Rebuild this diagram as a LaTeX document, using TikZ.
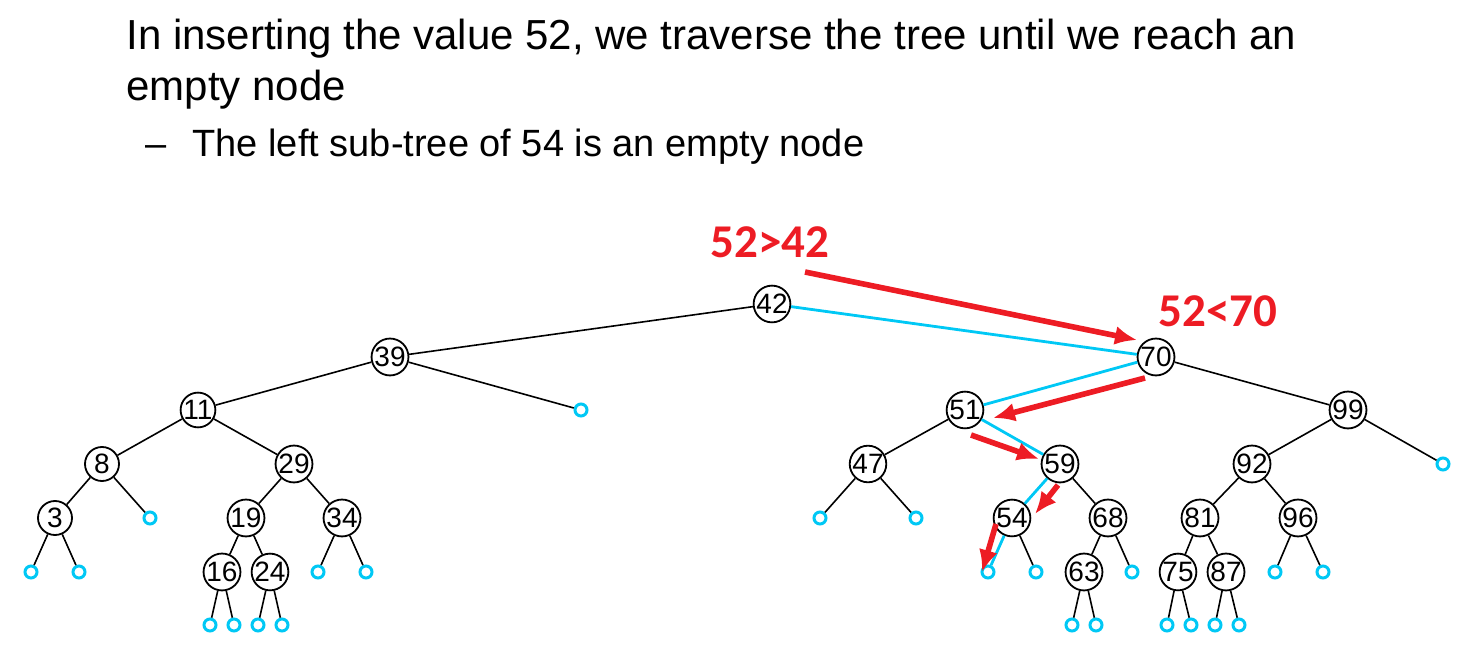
\documentclass[tikz,border=0pt]{standalone}
\usepackage{fontspec}
\setmainfont{Liberation Sans}
\newfontfamily\cmpfont{Carlito}
\usepackage{xcolor}
\usetikzlibrary{arrows.meta}
\definecolor{hitred}{RGB}{237,28,36}
\definecolor{leafcyan}{RGB}{0,200,245}

\begin{document}
\begin{tikzpicture}[>=Latex,x=0.5pt,y=-0.5pt,
    key/.style={circle,draw,line width=0.9pt,minimum size=17pt,inner sep=0pt,
      font=\fontsize{14}{14}\selectfont},
    leaf/.style={circle,draw=leafcyan,line width=1.5pt,minimum size=6pt,inner sep=0pt},
    edge/.style={line width=0.8pt},
    searchedge/.style={draw=leafcyan,line width=1.4pt},
    hop/.style={->,draw=hitred,line width=2.8pt,>={Latex[length=11pt,width=9.5pt]}},
    cmp/.style={text=hitred,anchor=base west,inner sep=0pt,
      font=\cmpfont\bfseries\fontsize{23.5}{23.5}\selectfont}]
    \useasboundingbox (0,0) rectangle (1477,672);
    \node[anchor=base west,inner sep=0pt,font=\fontsize{21}{21}\selectfont] (line1) at (126,50)
      {In inserting the value 52, we traverse the tree until we reach an};
    \node[anchor=base west,inner sep=0pt,font=\fontsize{21}{21}\selectfont] (line2) at (126,101)
      {empty node};
    \node[anchor=base west,inner sep=0pt,font=\fontsize{19}{19}\selectfont] (line3) at (145,157)
      {–\hspace{13pt}The left sub-tree of 54 is an empty node};
    % keys
    \foreach \n/\x/\y in {42/772/304,39/390/357,70/1156/357,11/198/410,51/965/410,
        99/1348/410,8/102/464,29/294/464,47/868/464,59/1060/464,92/1252/464,
        3/55/518,19/246/518,34/342/518,54/1012/518,68/1108/518,81/1200/518,
        96/1298/518,16/222/572,24/270/572,63/1084/572,75/1178/572,87/1226/572}
      \node[key] (n\n) at (\x,\y) {\n};
    % empty sub-trees
    \foreach \n/\x/\y in {39r/581/410,99r/1443/464,8r/150/518,47l/820/518,47r/916/518,
        3l/31/572,3r/79/572,34l/318/572,34r/366/572,54l/988/572,54r/1036/572,
        68r/1132/572,96l/1275/572,96r/1323/572,16l/210/625,16r/234/625,
        24l/258/625,24r/282/625,63l/1072/625,63r/1096/625,75l/1167/625,
        75r/1191/625,87l/1215/625,87r/1239/625}
      \node[leaf] (e\n) at (\x,\y) {};
    \foreach \a/\b in {n42/n39,n39/n11,n39/e39r,n11/n8,n11/n29,n8/n3,n8/e8r,
        n3/e3l,n3/e3r,n29/n19,n29/n34,n19/n16,n19/n24,n16/e16l,n16/e16r,
        n24/e24l,n24/e24r,n34/e34l,n34/e34r,n70/n99,n51/n47,n47/e47l,n47/e47r,
        n59/n68,n54/e54r,n68/n63,n68/e68r,n63/e63l,n63/e63r,n99/n92,n99/e99r,
        n92/n81,n92/n96,n81/n75,n81/n87,n75/e75l,n75/e75r,n87/e87l,n87/e87r,
        n96/e96l,n96/e96r}
      \draw[edge] (\a) -- (\b);
    \foreach \a/\b in {n42/n70,n70/n51,n51/n59,n59/n54,n54/e54l}
      \draw[searchedge] (\a) -- (\b);
    % comparisons
    \node[cmp] (cmp1) at (710,258) {52>42};
    \node[cmp] (cmp2) at (1158,327) {52<70};
    \coordinate (h1) at (805,272);  \coordinate (t1) at (1137,340);
    \coordinate (h2) at (1145,378); \coordinate (t2) at (993,418);
    \coordinate (h3) at (971,435);  \coordinate (t3) at (1039,459);
    \coordinate (h4) at (1058,485); \coordinate (t4) at (1035,514);
    \coordinate (h5) at (996,524);  \coordinate (t5) at (982,572);
    \foreach \i in {1,...,5}
      \draw[hop] (h\i) -- (t\i);
  \end{tikzpicture}
\end{document}
